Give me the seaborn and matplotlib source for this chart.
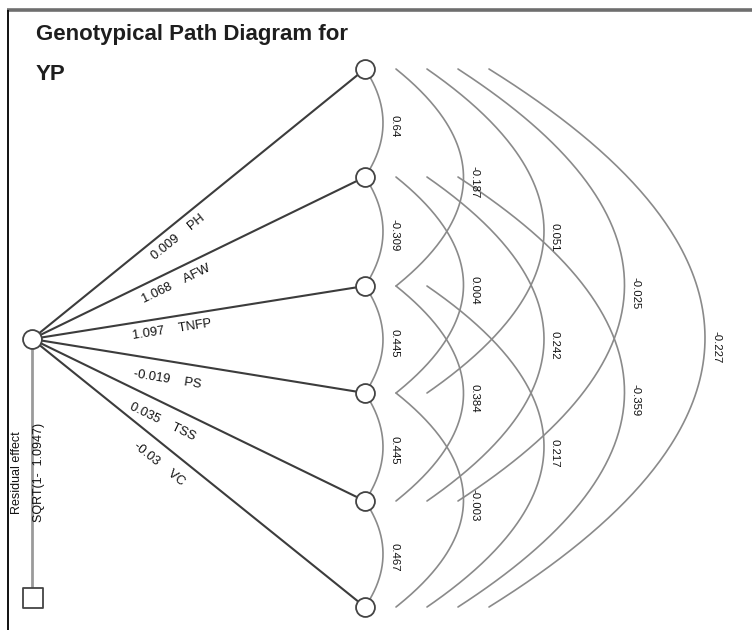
import numpy as np
import matplotlib
matplotlib.use("Agg")
import matplotlib.pyplot as plt
import seaborn as sns

# ---- data ----
TRAITS = ["PH", "AFW", "TNFP", "PS", "TSS", "VC"]
DIRECT_EFFECTS = [0.009, 1.068, 1.097, -0.019, 0.035, -0.03]

# genotypic correlations between traits i and j (i < j)
CORR_PAIRS = [(0, 1), (1, 2), (2, 3), (3, 4), (4, 5),
              (0, 2), (1, 3), (2, 4), (3, 5),
              (0, 3), (1, 4), (2, 5),
              (0, 4), (1, 5),
              (0, 5)]
CORR_VALUES = [0.64, -0.309, 0.445, 0.445, 0.467,
               -0.187, 0.004, 0.384, -0.003,
               0.051, 0.242, 0.217,
               -0.025, -0.359,
               -0.227]

RESPONSE = "YP"
RESIDUAL_TEXT = "SQRT(1-  1.0947)"

# ---- layout (pixels) ----
W, H = 752, 630
ROOT = (32, 339)
NODE_X = 365
NODE_Y = [69, 177, 286, 393, 501, 607]
FONT = "Liberation Sans"

sns.set_style("white")
plt.rcParams["font.family"] = [FONT, "DejaVu Sans"]

fig = plt.figure(figsize=(W / 100, H / 100), dpi=100)
ax = fig.add_axes([0, 0, 1, 1])
ax.set_xlim(0, W)
ax.set_ylim(H, 0)
ax.axis("off")

# frame (top + left only)
ax.plot([7, W], [9.5, 9.5], color="#6e6e6e", lw=2.6, solid_capstyle="butt")
ax.plot([7.5, 7.5], [9.5, H], color="#111111", lw=1.4, solid_capstyle="butt")

# title
ax.text(36, 40, "Genotypical Path Diagram for", fontsize=16, fontweight="bold",
        color="#1e1e1e", ha="left", va="baseline")
ax.text(36, 80, RESPONSE, fontsize=16, fontweight="bold",
        color="#1e1e1e", ha="left", va="baseline")

# direct-effect paths
for name, val, ny in zip(TRAITS, DIRECT_EFFECTS, NODE_Y):
    x0, y0 = ROOT
    ax.plot([x0, NODE_X], [y0, ny], color="#3c3c3c", lw=1.5, zorder=2)
    dx, dy = NODE_X - x0, ny - y0
    L = np.hypot(dx, dy)
    nx_, ny_ = -dy / L, dx / L
    t = (170 - x0) / dx
    off = 13 if dy < 0 else 18
    cx = x0 + t * dx + off * nx_
    cy = y0 + t * dy + off * ny_
    ang = -np.degrees(np.arctan2(dy, dx))
    ax.text(cx, cy, f"{val:g}    {name}", fontsize=9.3, color="#111111",
            rotation=ang, rotation_mode="anchor", ha="center", va="center")

# correlation arcs (parabolic bows to the right of the trait nodes)
for (i, j), r in zip(CORR_PAIRS, CORR_VALUES):
    d = j - i
    x_start = NODE_X + 31 * (d - 1)
    x_apex = 383 + 80.5 * (d - 1)
    ya, yb = NODE_Y[i], NODE_Y[j]
    ym = (ya + yb) / 2
    h = (yb - ya) / 2
    yy = np.linspace(ya, yb, 200)
    xx = x_start + (x_apex - x_start) * (1 - ((yy - ym) / h) ** 2)
    ax.plot(xx, yy, color="#8a8a8a", lw=1.2, zorder=1)
    ax.text(x_apex + 11, ym + 2 + 1.5 * d, f"{r:g}", fontsize=8.2,
            color="#111111", rotation=-90, ha="center", va="center")

# residual branch
ax.plot([ROOT[0], ROOT[0]], [ROOT[1], 598], color="#9a9a9a", lw=2.0, zorder=1)
ax.text(17, 473, "Residual effect", fontsize=9, color="#111111",
        rotation=90, ha="center", va="center")
ax.text(39, 472, RESIDUAL_TEXT, fontsize=9, color="#111111",
        rotation=90, ha="center", va="center")

# nodes
sns.scatterplot(x=[NODE_X] * len(NODE_Y) + [ROOT[0]], y=NODE_Y + [ROOT[1]],
                s=185, color="white", edgecolor="#444444", linewidth=1.3,
                zorder=5, ax=ax, legend=False)
sns.scatterplot(x=[ROOT[0] + 1], y=[598], marker="s", s=190, color="white",
                edgecolor="#444444", linewidth=1.3, zorder=5, ax=ax, legend=False)

ax.set_xlim(0, W)
ax.set_ylim(H, 0)
ax.axis("off")
fig.savefig("out.png", dpi=100)
